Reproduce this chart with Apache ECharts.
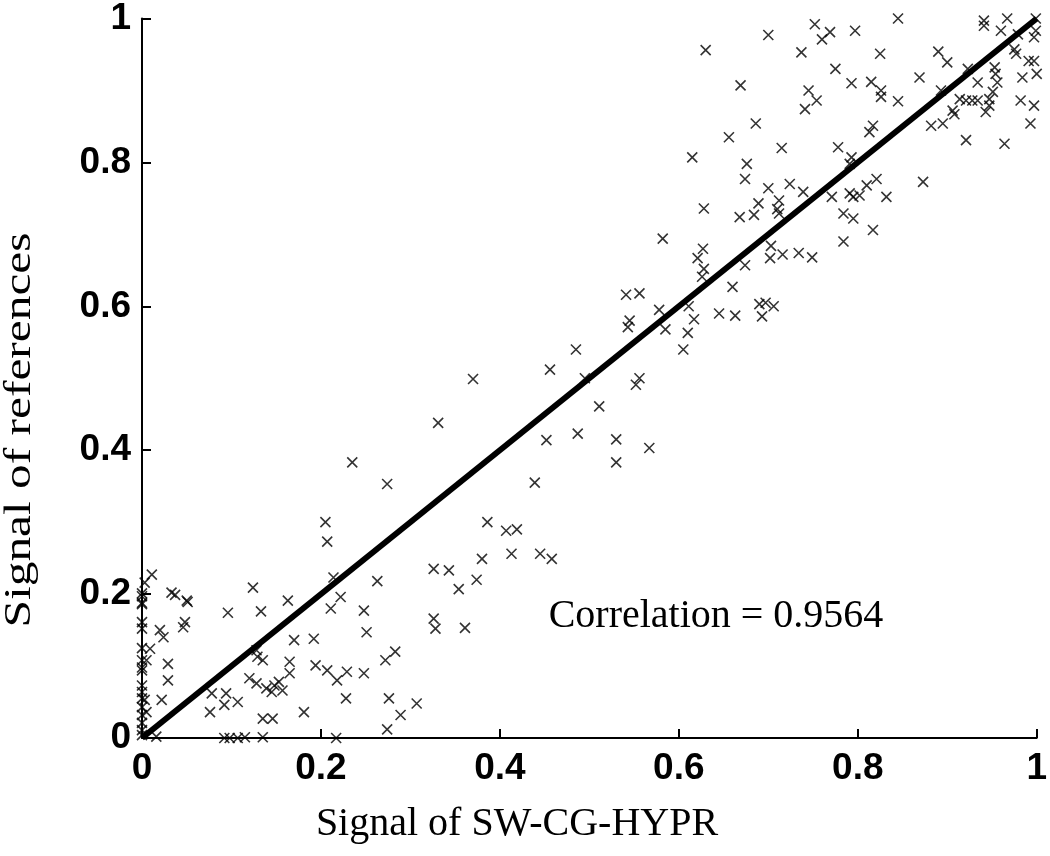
<!DOCTYPE html>
<html>
<head>
<meta charset="utf-8">
<script src="https://cdn.jsdelivr.net/npm/echarts@6/dist/echarts.min.js"></script>
<style>
html,body{margin:0;padding:0;background:#fff;}
#chart{width:1050px;height:856px;}
</style>
</head>
<body>
<div id="chart"></div>
<script>
// Signal of SW-CG-HYPR (x) and signal of references (y)
const signalSW = [
0.845,0.752,0.769,0.760,0.797,0.700,0.630,0.737,0.825,0.941,0.941,0.967,0.960,0.999,0.999,0.997,0.979,0.975,0.977,0.890,
0.900,0.991,0.997,0.775,0.869,0.923,0.934,0.953,0.954,0.956,0.951,0.947,0.947,0.943,0.984,1.000,0.669,0.793,0.815,0.826,
0.826,0.745,0.754,0.741,0.845,0.893,0.914,0.921,0.928,0.934,0.906,0.908,0.982,0.997,0.993,0.882,0.895,0.686,0.656,0.817,
0.813,0.715,0.615,0.921,0.964,0.676,0.674,0.778,0.793,0.791,0.873,0.700,0.712,0.710,0.712,0.724,0.739,0.810,0.821,0.771,
0.791,0.795,0.802,0.832,0.689,0.684,0.668,0.628,0.784,0.795,0.817,0.582,0.784,0.627,0.621,0.628,0.626,0.703,0.702,0.716,
0.734,0.749,0.674,0.660,0.541,0.556,0.578,0.585,0.545,0.543,0.611,0.617,0.610,0.605,0.645,0.663,0.690,0.697,0.706,0.693,
0.556,0.485,0.456,0.370,0.495,0.552,0.511,0.530,0.567,0.530,0.331,0.452,0.487,0.439,0.235,0.274,0.205,0.207,0.386,0.407,
0.419,0.380,0.413,0.445,0.458,0.326,0.343,0.354,0.374,0.263,0.214,0.222,0.211,0.248,0.251,0.326,0.328,0.361,0.170,0.192,
0.163,0.124,0.133,0.096,0.272,0.283,0.194,0.207,0.218,0.229,0.248,0.228,0.276,0.289,0.307,0.274,0.181,0.165,0.165,0.217,
0.011,0.003,0.033,0.037,0.050,0.051,0.129,0.135,0.048,0.046,0.020,0.024,0.009,0.029,0.005,0.029,0.022,0.005,0.078,0.076,
0.094,0.092,0.107,0.120,0.128,0.139,0.145,0.148,0.153,0.157,0.135,0.146,0.092,0.098,0.107,0.115,0.135,0.016,0.128,0.003,
0,0,0,0,0,0,0,0,0,0,0,0,0,0,0,0,0,0
];
const signalRef = [
1.000,0.992,0.981,0.971,0.983,0.977,0.956,0.953,0.951,0.997,0.990,1.000,0.983,1.000,0.983,0.974,0.978,0.957,0.951,0.954,
0.939,0.941,0.941,0.930,0.918,0.930,0.911,0.932,0.923,0.911,0.898,0.888,0.879,0.870,0.918,0.923,0.907,0.910,0.912,0.900,
0.891,0.900,0.886,0.874,0.885,0.900,0.888,0.886,0.886,0.886,0.872,0.867,0.886,0.879,0.854,0.851,0.854,0.854,0.835,0.851,
0.842,0.820,0.807,0.831,0.826,0.798,0.777,0.821,0.807,0.798,0.773,0.764,0.747,0.735,0.729,0.770,0.759,0.768,0.777,0.752,
0.757,0.752,0.754,0.752,0.743,0.727,0.724,0.736,0.729,0.722,0.706,0.694,0.690,0.680,0.667,0.652,0.641,0.684,0.667,0.672,
0.674,0.668,0.657,0.627,0.616,0.618,0.595,0.568,0.580,0.571,0.600,0.582,0.563,0.540,0.590,0.587,0.603,0.605,0.600,0.586,
0.500,0.540,0.512,0.499,0.500,0.491,0.461,0.415,0.403,0.383,0.438,0.414,0.423,0.355,0.383,0.353,0.300,0.273,0.300,0.288,
0.290,0.249,0.256,0.256,0.249,0.235,0.233,0.207,0.220,0.218,0.223,0.196,0.180,0.177,0.147,0.166,0.152,0.153,0.136,0.138,
0.191,0.209,0.176,0.174,0.108,0.120,0.101,0.094,0.080,0.092,0.090,0.055,0.055,0.032,0.048,0.012,0.036,0.106,0.090,0.000,
0.227,0.216,0.202,0.199,0.191,0.189,0.113,0.108,0.161,0.154,0.150,0.140,0.124,0.103,0.108,0.080,0.053,0.036,0.062,0.036,
0.062,0.046,0.050,0.083,0.076,0.069,0.064,0.073,0.078,0.066,0.027,0.027,0.000,0.000,0.000,0.001,0.001,0.002,0.122,0.053,
0.201,0.197,0.188,0.186,0.161,0.152,0.125,0.108,0.098,0.094,0.073,0.064,0.055,0.043,0.032,0.021,0.011,0.004
];
const fitLine = [[0, 0], [1, 1]];
const tickLabels = ['0', '0.2', '0.4', '0.6', '0.8', '1'];
const xTitle = 'Signal of SW-CG-HYPR';
const yTitle = 'Signal of references';
const correlationText = 'Correlation = 0.9564';

const points = signalSW.map((x, i) => [x, signalRef[i]]);

const chart = echarts.init(document.getElementById('chart'), null, {renderer: 'canvas'});

const axisCommon = {
  type: 'value', min: 0, max: 1, interval: 0.2,
  splitLine: {show: false},
  axisLine: {show: true, onZero: false, lineStyle: {color: '#000', width: 2}},
  axisTick: {show: true, inside: true, length: 9, lineStyle: {color: '#000', width: 2}},
  axisLabel: {
    color: '#000', fontFamily: 'Liberation Sans', fontWeight: 'bold', fontSize: 37,
    formatter: v => tickLabels[Math.round(v / 0.2)]
  }
};

chart.setOption({
  backgroundColor: '#fff',
  animation: false,
  grid: {left: 142, right: 9, top: 16, bottom: 118, containLabel: false},
  xAxis: Object.assign({}, axisCommon, {
    axisLabel: Object.assign({}, axisCommon.axisLabel, {margin: 12})
  }),
  yAxis: Object.assign({}, axisCommon, {
    axisLabel: Object.assign({}, axisCommon.axisLabel, {margin: 11})
  }),
  graphic: [
    {type: 'text', x: 517, y: 824, z: 10,
     style: {text: xTitle, fill: '#000', font: '40px "Liberation Serif"', align: 'center', verticalAlign: 'middle'}},
    {type: 'text', x: 20, y: 430, rotation: Math.PI / 2, scaleX: 1.3, z: 10,
     style: {text: yTitle, fill: '#000', font: '38px "Liberation Serif"', align: 'center', verticalAlign: 'middle'}},
    {type: 'text', x: 716, y: 616, z: 10,
     style: {text: correlationText, fill: '#000', font: '40px "Liberation Serif"', align: 'center', verticalAlign: 'middle'}}
  ],
  series: [
    {
      type: 'scatter',
      data: points,
      symbol: 'path://M0,0L10,10M10,0L0,10',
      symbolSize: 10,
      itemStyle: {color: 'rgba(0,0,0,0)', borderColor: '#000', borderWidth: 1.6},
      z: 2
    },
    {
      type: 'line',
      data: fitLine,
      symbol: 'none',
      lineStyle: {color: '#000', width: 6},
      z: 3
    }
  ]
});
</script>
</body>
</html>
